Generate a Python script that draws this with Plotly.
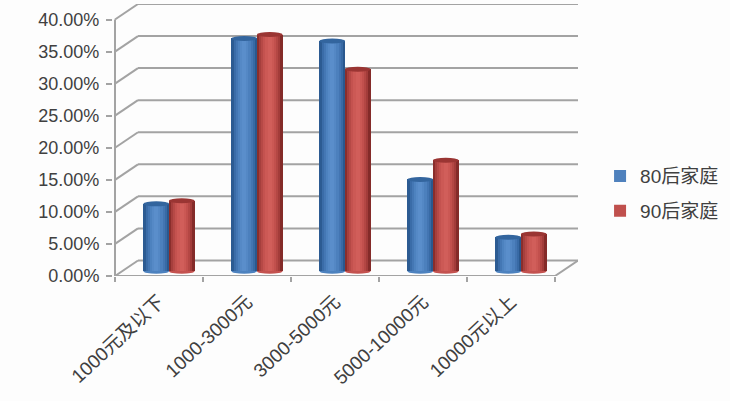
import plotly.graph_objects as go

categories = ["1000元及以下", "1000-3000元", "3000-5000元", "5000-10000元", "10000元以上"]
series_80 = [10.5, 36.3, 35.9, 14.3, 5.3]
series_90 = [11.0, 36.9, 31.5, 17.3, 5.8]
y_ticks = [0, 5, 10, 15, 20, 25, 30, 35, 40]
y_labels = ["0.00%", "5.00%", "10.00%", "15.00%", "20.00%", "25.00%", "30.00%", "35.00%", "40.00%"]

BLUE_SHADES = ["#2c5b92", "#3a6ca8", "#4477b4", "#4d82bf", "#5589c6", "#5a8ecb", "#5a8ecb", "#5488c5", "#4c80bd", "#4375b2", "#386aa5", "#2a588e"]
RED_SHADES = ["#8a2e2c", "#a63f3d", "#b64946", "#c4524f", "#cc5955", "#d15e5a", "#d15e5a", "#cb5854", "#c2504d", "#b44744", "#a33c3a", "#842b29"]
BLUE, RED = "#4f81bd", "#c0504d"
GRID = "#a3a3a3"
FONT = "Liberation Sans, Noto Sans CJK SC, sans-serif"

PX_CAT = 88.0
PX_PCT = 6.41
DX, DY = 23 / PX_CAT, 15.5 / PX_PCT
SHIFT = 10 / PX_CAT
BASE = 0.75
BAR_W = 25.5 / PX_CAT
CAP = 5 / PX_PCT

x_left = -0.5 - 2 / PX_CAT
x_right = 4.5 + DX
y_top = 40 + DY

fig = go.Figure()
shapes = []


def line(x0, y0, x1, y1):
    shapes.append(dict(type="line", xref="x", yref="y", x0=x0, y0=y0, x1=x1, y1=y1,
                       line=dict(color=GRID, width=2), layer="below"))


for v in y_ticks:
    line(-0.5, v, -0.5 + DX, v + DY)
    line(-0.5 + DX, v + DY, x_right, v + DY)
line(-0.5, 0, -0.5, 40)
line(-0.5, 0, 4.5, 0)
line(4.5, 0, x_right, DY)


def add_series(name, values, sign, base_color, shades, cap_color):
    centers = [i + SHIFT + sign * BAR_W / 2 for i in range(len(values))]
    fig.add_trace(go.Bar(x=centers, y=values, base=BASE, width=BAR_W, name=name,
                         marker=dict(color=base_color, line_width=0), legendgroup=name,
                         hoverinfo="skip"))
    n = len(shades)
    for k, c in enumerate(shades):
        w = BAR_W / n
        xs = [cx - BAR_W / 2 + w * (k + 0.5) for cx in centers]
        fig.add_trace(go.Bar(x=xs, y=values, base=BASE, width=w * 1.1, showlegend=False,
                             marker=dict(color=c, line_width=0), legendgroup=name,
                             hoverinfo="skip"))
    for cx, v in zip(centers, values):
        shapes.append(dict(type="circle", xref="x", yref="y", x0=cx - BAR_W / 2, x1=cx + BAR_W / 2,
                           y0=BASE + v - CAP / 2, y1=BASE + v + CAP / 2, fillcolor=cap_color,
                           line=dict(width=0), layer="above"))
        shapes.append(dict(type="circle", xref="x", yref="y", x0=cx - BAR_W / 2, x1=cx + BAR_W / 2,
                           y0=BASE - CAP / 2, y1=BASE + CAP / 2, fillcolor=shades[3],
                           line=dict(width=0), layer="below"))


add_series("80后家庭", series_80, -1, BLUE, BLUE_SHADES, "#33659e")
add_series("90后家庭", series_90, 1, RED, RED_SHADES, "#9a3533")

fig.update_layout(
    width=730, height=401, autosize=False,
    margin=dict(l=113, r=152, t=4, b=125, autoexpand=False),
    paper_bgcolor="#fdfdfd", plot_bgcolor="#fdfdfd",
    barmode="overlay", bargap=0, shapes=shapes,
    font=dict(family=FONT, color="#404040"),
    legend=dict(xref="container", yref="container", x=0.822, y=0.608, xanchor="left", yanchor="top",
                tracegroupgap=7, font=dict(size=19, color="#404040"),
                bgcolor="rgba(0,0,0,0)", itemwidth=30),
    xaxis=dict(range=[x_left, x_right], tickmode="array", tickvals=list(range(5)), automargin=False,
               ticktext=categories, tickangle=-43, ticks="", showgrid=False, zeroline=False,
               showline=False, tickfont=dict(size=19, color="#404040", family=FONT), ticklabelstandoff=10,
               minor=dict(tickmode="array", tickvals=[-0.5, 0.5, 1.5, 2.5, 3.5, 4.5], ticks="outside",
                          ticklen=5, tickwidth=2, tickcolor=GRID, showgrid=False)),
    yaxis=dict(range=[0, y_top], tickmode="array", tickvals=y_ticks, ticktext=y_labels, automargin=False,
               ticks="outside", ticklen=6, tickwidth=2, tickcolor=GRID, showgrid=False,
               zeroline=False, showline=False, ticklabelstandoff=3,
               tickfont=dict(size=18, color="#404040", family=FONT)),
)

fig.write_html("out.html", config=dict(displayModeBar=False),
               post_script="document.body.style.margin='0';")
